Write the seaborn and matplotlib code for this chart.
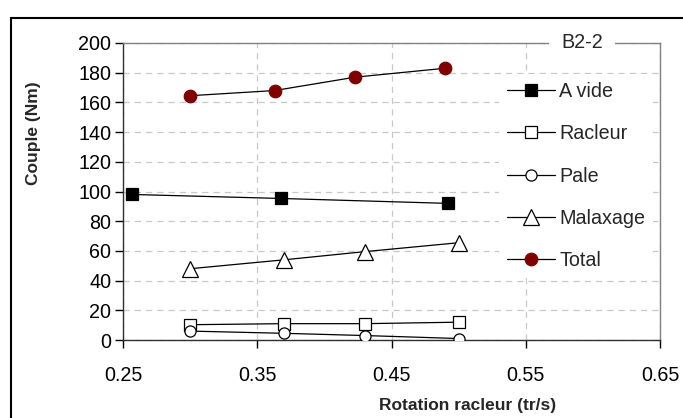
import matplotlib
matplotlib.use("Agg")
import matplotlib.pyplot as plt
import seaborn as sns
import pandas as pd
from matplotlib.patches import Rectangle

# ---- data ----
x_avide = [0.257, 0.368, 0.492]
y_avide = [98.0, 95.3, 92.0]
x_racleur = [0.300, 0.370, 0.430, 0.500]
y_racleur = [10.3, 11.0, 11.0, 12.0]
x_pale = [0.300, 0.370, 0.430, 0.500]
y_pale = [6.0, 4.5, 3.0, 1.0]
x_malax = [0.300, 0.370, 0.430, 0.500]
y_malax = [48.0, 54.0, 59.5, 65.5]
x_total = [0.300, 0.363, 0.423, 0.490]
y_total = [164.5, 168.0, 177.0, 183.0]

series_names = ["A vide", "Racleur", "Pale", "Malaxage", "Total"]
x_ticks = [0.25, 0.35, 0.45, 0.55, 0.65]
x_ticklabels = ["0.25", "0.35", "0.45", "0.55", "0.65"]
y_ticks = [0, 20, 40, 60, 80, 100, 120, 140, 160, 180, 200]

sns.set_style("white")
plt.rcParams['font.family'] = ['Liberation Sans', 'DejaVu Sans']

fig = plt.figure(figsize=(6.83, 4.18), dpi=100)
W, H = 683, 418
ax = fig.add_axes([123 / W, 1 - 340 / H, (660 - 123) / W, (340 - 43) / H])

styles = {
    "A vide": dict(marker="s", ms=8.5, mfc="black", mec="black"),
    "Racleur": dict(marker="s", ms=8, mfc="white", mec="black"),
    "Pale": dict(marker="o", ms=8, mfc="white", mec="black"),
    "Malaxage": dict(marker="^", ms=11, mfc="white", mec="black"),
    "Total": dict(marker="o", ms=9, mfc="#800000", mec="#800000"),
}
data = {
    "A vide": (x_avide, y_avide),
    "Racleur": (x_racleur, y_racleur),
    "Pale": (x_pale, y_pale),
    "Malaxage": (x_malax, y_malax),
    "Total": (x_total, y_total),
}
for name in series_names:
    xs, ys = data[name]
    df = pd.DataFrame({"x": xs, "y": ys})
    st = styles[name]
    sns.lineplot(data=df, x="x", y="y", ax=ax, color="black", lw=0.9,
                 marker=st["marker"], markersize=st["ms"],
                 markerfacecolor=st["mfc"], markeredgecolor=st["mec"],
                 markeredgewidth=0.9, label=name, sort=False, zorder=4)

ax.set_xlim(0.25, 0.65)
ax.set_ylim(0, 200)
ax.set_xticks(x_ticks)
ax.set_xticklabels(x_ticklabels)
ax.set_yticks(y_ticks)
ax.grid(True, color="#c8c8c8", linestyle=(0, (5, 4)), linewidth=0.9)
ax.set_axisbelow(True)
for s in ax.spines.values():
    s.set_color("#303030")
    s.set_linewidth(1.0)
ax.spines['top'].set_color("#808080")
ax.spines['right'].set_color("#808080")
ax.tick_params(axis='both', labelsize=14.2, colors="black", length=6,
               width=1.0, direction='out', left=True, bottom=True)
ax.tick_params(axis='x', pad=13)
ax.tick_params(axis='y', pad=2.5)

ax.set_xlabel("Rotation racleur (tr/s)", fontsize=12.5, fontweight="bold")
ax.set_ylabel("Couple (Nm)", fontsize=12.5, fontweight="bold")
ax.xaxis.set_label_coords(0.642, -0.196)
ax.yaxis.set_label_coords(-0.153, 0.697)

leg = ax.legend(loc="center left", bbox_to_anchor=(0.700, 0.552),
                borderaxespad=0, frameon=True, fontsize=14.2,
                handlelength=2.45, handletextpad=0.22, labelspacing=1.18,
                borderpad=0.4)
leg.get_frame().set_facecolor("white")
leg.get_frame().set_edgecolor("none")
leg.get_frame().set_alpha(1)
leg.set_zorder(5)

ax.text(0.855, 1.0, "B2-2", transform=ax.transAxes, ha="center", va="center",
        fontsize=14.2, zorder=6, clip_on=False,
        bbox=dict(facecolor="white", edgecolor="none", pad=9))

fig.patches.append(Rectangle((11 / W, -0.1), 1.2, 1 - 18 / H + 0.1,
                             transform=fig.transFigure, fill=False,
                             edgecolor="black", linewidth=1.5))

fig.savefig("out.png", dpi=100)
